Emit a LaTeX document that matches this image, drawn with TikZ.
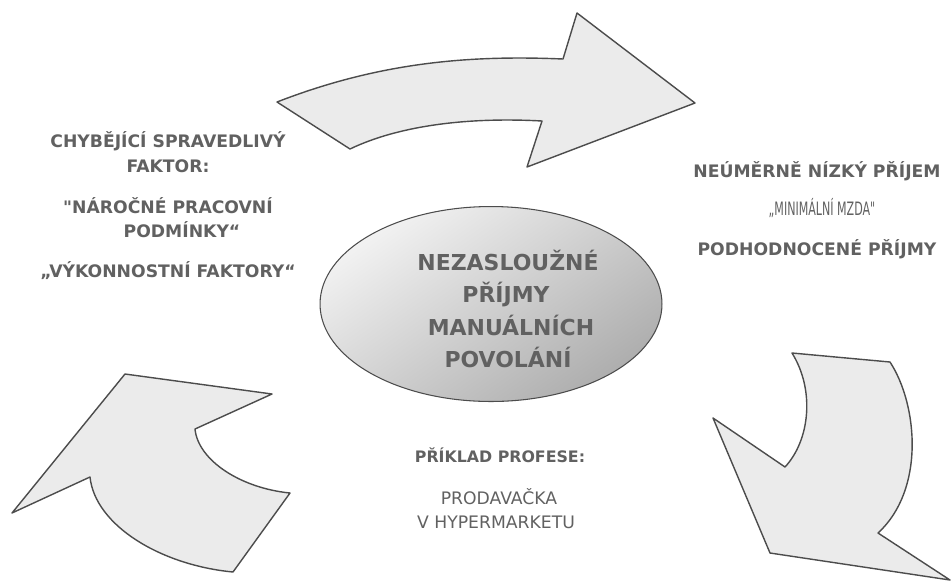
\documentclass[tikz,border=0pt]{standalone}
\usepackage{fontspec}
\setmainfont{DejaVu Sans}[Ligatures=TeXOff]
\usetikzlibrary{shapes.geometric}

\begin{document}
\begin{tikzpicture}[x=0.02cm, y=-0.02cm, line join=round,
    every node/.style={inner sep=0pt, anchor=base, text=txtgray},
    shaft/.style={fill=arrowbg, draw=arrowborder, line width=0.8pt},
    boldtext/.style={font=\bfseries\fontsize{9.8}{12}\selectfont},
    thintext/.style={font=\fontsize{9.8}{12}\selectfont},
    coretext/.style={font=\bfseries\fontsize{12.5}{15}\selectfont}]
  \colorlet{txtgray}{black!62} \colorlet{arrowbg}{black!8} \colorlet{arrowborder}{black!70}
  \useasboundingbox (0,0) rectangle (952,582);

  \draw[shaft] (277,102) .. controls (380,62) and (470,55) .. (563,59) -- (577,13) -- (695,103)
    -- (527,167) -- (542,121) .. controls (470,117) and (400,125) .. (350,149) -- cycle;
  \draw[shaft] (890,362) .. controls (918,405) and (925,490) .. (878,533) -- (950,580) -- (770,553)
    -- (713,418) -- (785,467) .. controls (810,440) and (815,390) .. (792,353) -- cycle;
  \draw[shaft] (125,374) -- (272,394) -- (195,429) .. controls (198,460) and (240,488) .. (290,493)
    -- (233,572) .. controls (160,565) and (95,525) .. (90,477) -- (12,513) -- cycle;

  \node[ellipse, anchor=center, minimum width=6.84cm, minimum height=3.9cm, draw=arrowborder,
    line width=0.6pt, top color=black!5, bottom color=black!32, shading angle=35] (core) at (491,304) {};
  \node[coretext] (core1) at (508,270) {NEZASLOUŽNÉ};
  \node[coretext] (core2) at (506,302) {PŘÍJMY};
  \node[coretext] (core3) at (511,335) {MANUÁLNÍCH};
  \node[coretext] (core4) at (508,367) {POVOLÁNÍ};

  \node[boldtext] (miss1) at (168,147) {CHYBĚJÍCÍ SPRAVEDLIVÝ};
  \node[boldtext] (miss2) at (168,172) {FAKTOR:};
  \node[boldtext] (miss3) at (168,213) {"NÁROČNÉ PRACOVNÍ};
  \node[boldtext] (miss4) at (182,237) {PODMÍNKY“};
  \node[boldtext] (miss5) at (168,277) {„VÝKONNOSTNÍ FAKTORY“};

  \node[boldtext] (low1) at (817,177) {NEÚMĚRNĚ NÍZKÝ PŘÍJEM};
  \node[thintext, font=\fontsize{10.5}{12}\selectfont] (low2) at (822,215) {\scalebox{0.6}[1]{„MINIMÁLNÍ MZDA"}};
  \node[boldtext] (low3) at (817,255) {PODHODNOCENÉ PŘÍJMY};

  \node[boldtext, font=\bfseries\fontsize{9}{12}\selectfont] (job1) at (500,462) {PŘÍKLAD PROFESE:};
  \node[thintext] (job2) at (499,504) {PRODAVAČKA};
  \node[thintext] (job3) at (496,528) {V HYPERMARKETU};
\end{tikzpicture}
\end{document}
